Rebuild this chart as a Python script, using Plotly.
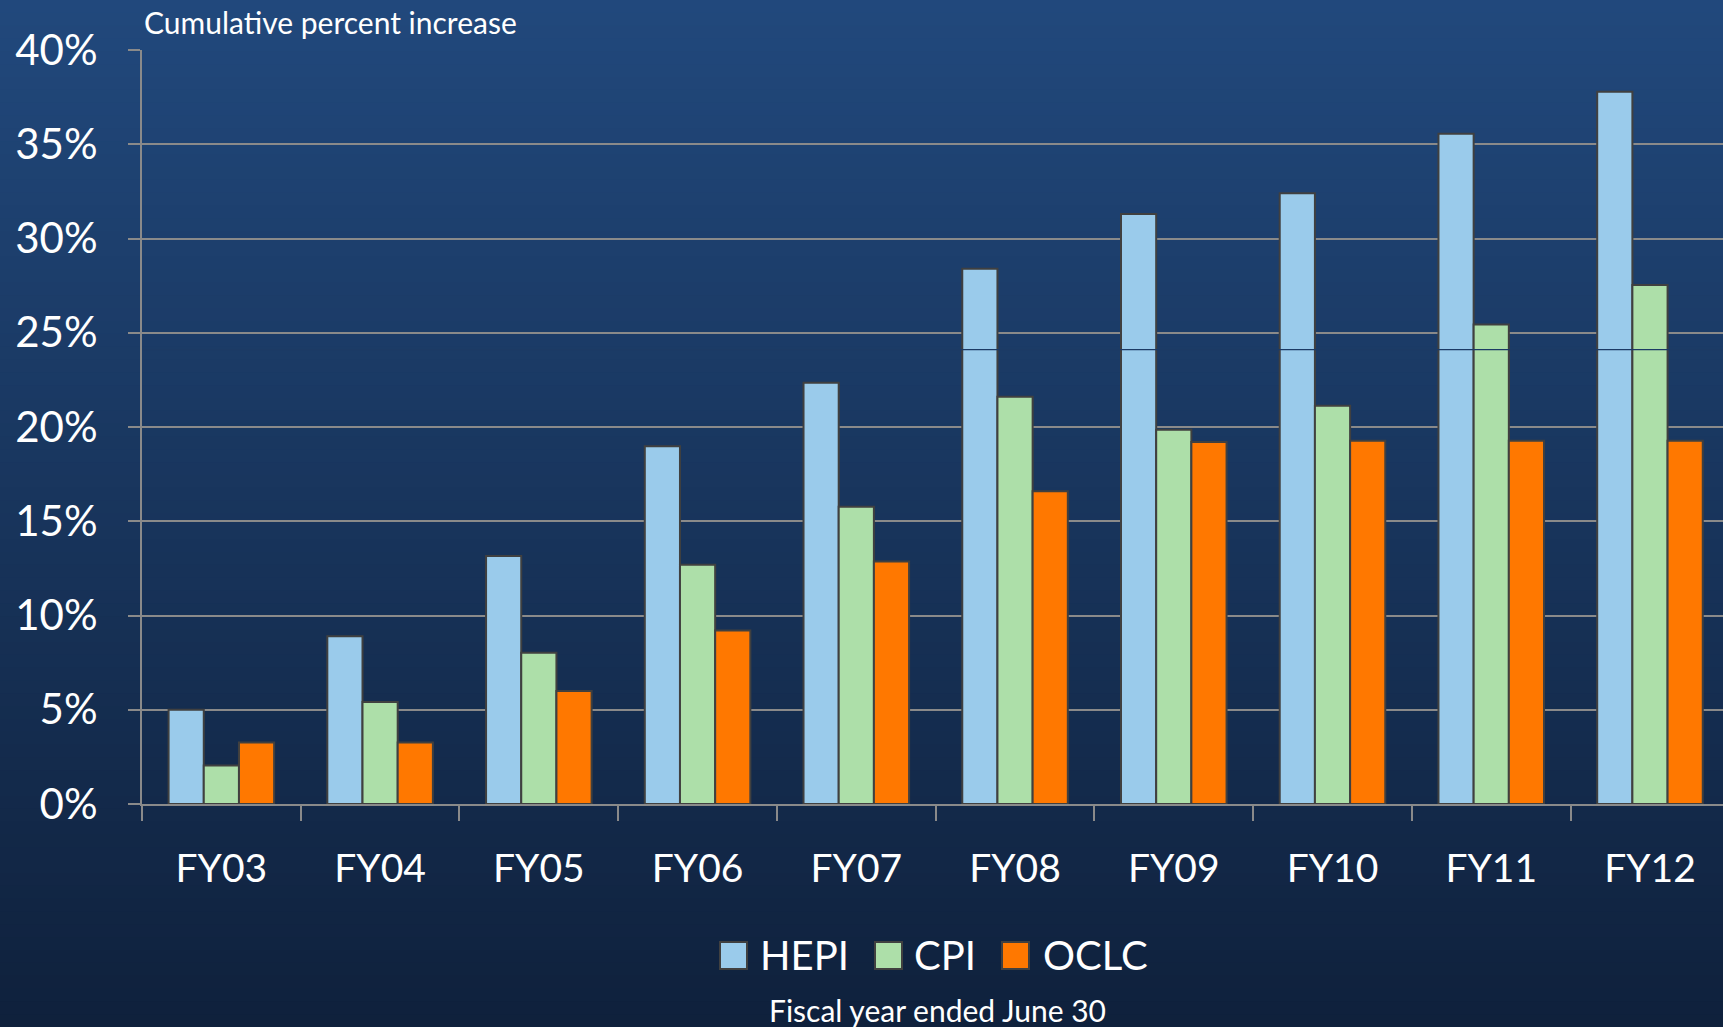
import plotly.graph_objects as go

categories = ["FY03", "FY04", "FY05", "FY06", "FY07", "FY08", "FY09", "FY10", "FY11", "FY12"]
hepi = [5.0, 8.9, 13.15, 18.98, 22.35, 28.4, 31.3, 32.4, 35.56, 37.78]
cpi = [2.04, 5.41, 8.03, 12.69, 15.77, 21.6, 19.85, 21.13, 25.44, 27.53]
oclc = [3.26, 3.26, 6.0, 9.2, 12.86, 16.59, 19.2, 19.27, 19.27, 19.27]
series_names = ["HEPI", "CPI", "OCLC"]
series_colors = ["#9acbeb", "#addfa9", "#ff7800"]
y_ticks = [0, 5, 10, 15, 20, 25, 30, 35, 40]
y_tick_labels = ["0%", "5%", "10%", "15%", "20%", "25%", "30%", "35%", "40%"]
artifact_level = 24.1

W, H = 1723, 1027
L, R, T, B = 142, 0, 50, 223
PW, PH = W - L - R, H - T - B

def px(x):
    return (x - L) / PW

def py(y):
    return (H - B - y) / PH

FONT = "Lato"

fig = go.Figure()
for name, vals, col in zip(series_names, [hepi, cpi, oclc], series_colors):
    fig.add_trace(go.Bar(x=categories, y=vals, name=name, marker=dict(color=col, line=dict(color="#404040", width=2))))

shapes = []
# background gradient
top_c = (33, 72, 124)
bot_c = (15, 33, 60)
n = 80
for i in range(n):
    t = i / (n - 1)
    c = tuple(int(round(top_c[k] + (bot_c[k] - top_c[k]) * t)) for k in range(3))
    y0 = i * H / n
    y1 = (i + 1) * H / n + 1
    shapes.append(dict(type="rect", xref="paper", yref="paper", x0=px(-5), x1=px(W + 5), y0=py(y1), y1=py(y0),
                       fillcolor="rgb(%d,%d,%d)" % c, line=dict(width=0), layer="below"))
# thin artifact line across bars
shapes.append(dict(type="line", xref="paper", yref="y", x0=0, x1=1, y0=artifact_level, y1=artifact_level,
                   line=dict(color="#1c3a64", width=1.2), layer="above"))

annotations = [
    dict(text="Cumulative percent increase", xref="paper", yref="paper", x=px(142), y=py(22), xanchor="left",
         yanchor="middle", showarrow=False, font=dict(family=FONT, size=30, color="white")),
    dict(text="Fiscal year ended June 30", xref="paper", yref="paper", x=px(937), y=py(1010), xanchor="center",
         yanchor="middle", showarrow=False, font=dict(family=FONT, size=30, color="white")),
]
# manual legend
leg_sq = [720, 875, 1002]
leg_tx = [758, 912, 1041]
for name, col, sx, tx in zip(series_names, series_colors, leg_sq, leg_tx):
    shapes.append(dict(type="rect", xref="paper", yref="paper", x0=px(sx), x1=px(sx + 27), y0=py(969), y1=py(942),
                       fillcolor=col, line=dict(color="#404040", width=2)))
    annotations.append(dict(text=name, xref="paper", yref="paper", x=px(tx), y=py(955), xanchor="left",
                            yanchor="middle", showarrow=False, font=dict(family=FONT, size=40, color="white")))

fig.update_layout(
    width=W, height=H,
    margin=dict(l=L, r=R, t=T, b=B, pad=0),
    paper_bgcolor="#1a3761",
    plot_bgcolor="rgba(0,0,0,0)",
    barmode="group",
    bargap=0.335,
    bargroupgap=0,
    showlegend=False,
    shapes=shapes,
    annotations=annotations,
    font=dict(family=FONT, color="white"),
)
fig.update_xaxes(
    type="category", range=[-0.5, 9.46], showgrid=False, showline=True, linecolor="#8a8a8a", linewidth=2,
    ticks="outside", tickson="boundaries", ticklen=15, tickwidth=2, tickcolor="#8a8a8a",
    tickfont=dict(family=FONT, size=39, color="white"), ticklabelstandoff=29,
)
fig.update_yaxes(
    range=[0, 40], tickvals=y_ticks, ticktext=y_tick_labels, showgrid=True, gridcolor="#8a8a8a", gridwidth=2,
    showline=True, linecolor="#8a8a8a", linewidth=2, ticks="outside", ticklen=12, tickwidth=2, tickcolor="#8a8a8a",
    tickfont=dict(family=FONT, size=42, color="white"), ticklabelstandoff=22, zeroline=False,
)

fig.write_html(
    "out.html",
    config={"displayModeBar": False},
    post_script="document.body.style.margin='0';document.body.style.padding='0';document.body.style.overflow='hidden';",
)
